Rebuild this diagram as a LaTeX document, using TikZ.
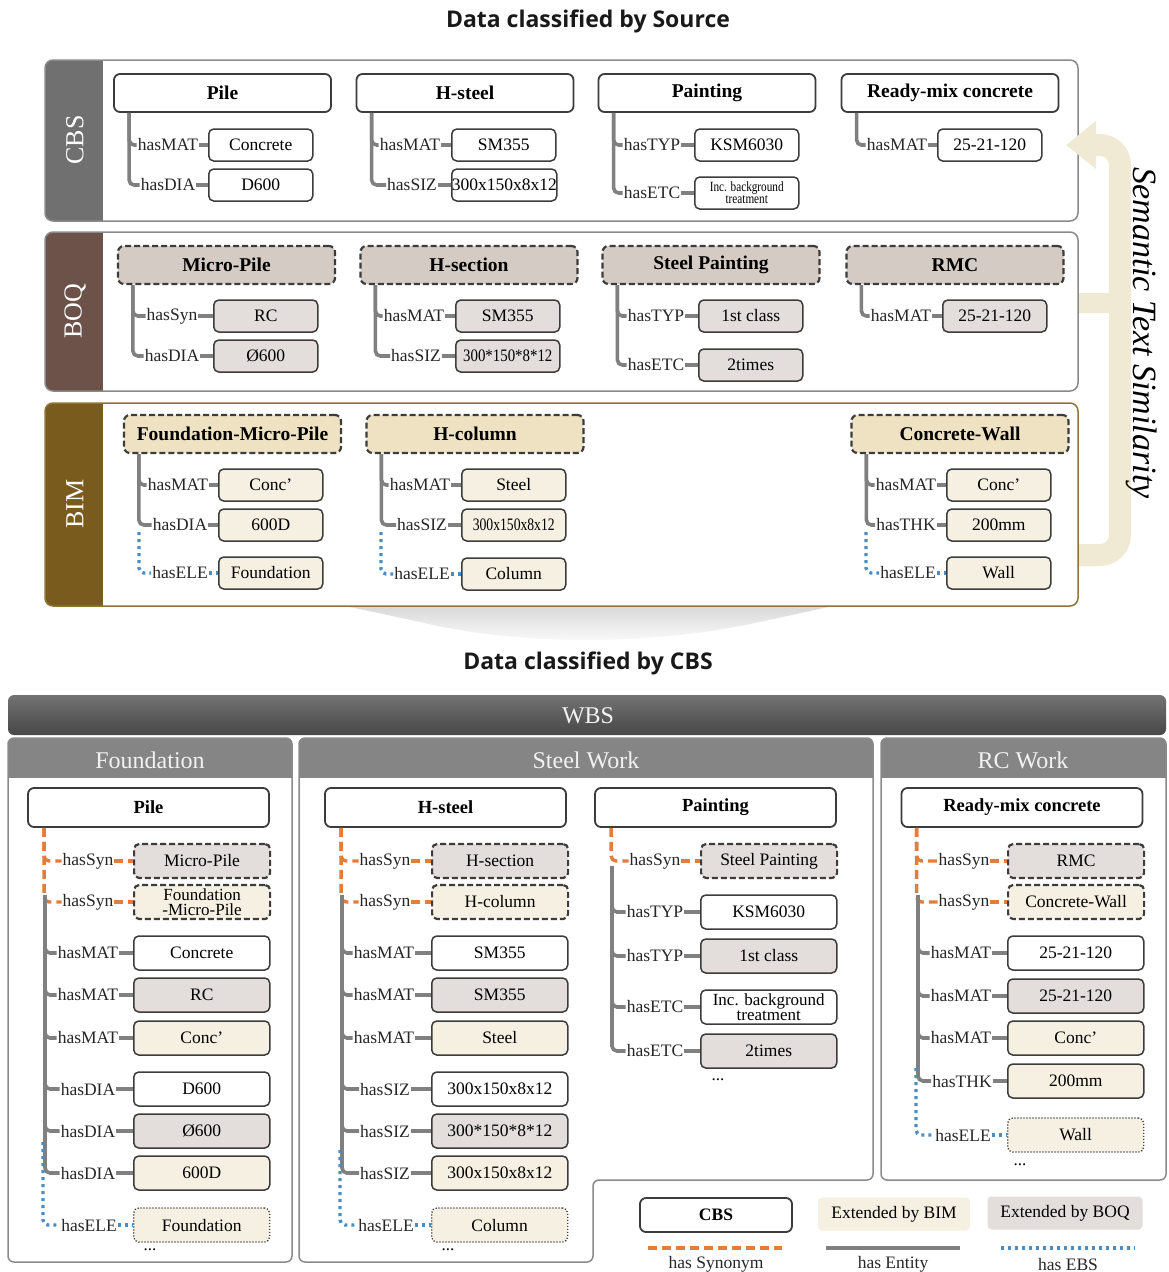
\documentclass[tikz,border=0pt]{standalone}
\usepackage{fontspec}
\setmainfont{Liberation Serif}
\newfontfamily\titlefont{Open Sans}
\usepackage{graphicx}
\usetikzlibrary{arrows.meta}

\definecolor{entc}{HTML}{808080}
\definecolor{sync}{HTML}{E27D3C}
\definecolor{ebsc}{HTML}{4A8CC4}
\definecolor{boqf}{HTML}{E3DEDC}
\definecolor{bimf}{HTML}{F5F0E1}
\definecolor{boqh}{HTML}{D4CBC4}
\definecolor{bimh}{HTML}{EEE2C3}
\definecolor{cbsstrip}{HTML}{707070}
\definecolor{boqstrip}{HTML}{6C5248}
\definecolor{bimstrip}{HTML}{7A5B1E}
\definecolor{bimborder}{HTML}{8E7538}
\definecolor{bandborder}{HTML}{8A8A8A}
\definecolor{boxline}{HTML}{3C3C3C}
\definecolor{semc}{HTML}{F0E9D4}
\definecolor{hdr}{HTML}{858585}

\tikzset{
 lab/.style={inner sep=1pt, font=\fontsize{17.5}{19}\selectfont, text=black!85},
 vbox/.style={draw=boxline, line width=1.5pt, rounded corners=5pt, minimum height=32pt, inner sep=1pt, font=\fontsize{17.5}{19}\selectfont, align=center},
 tw/.style={vbox, minimum width=104pt},
 bw/.style={vbox, minimum width=136pt, minimum height=34pt},
 fcbs/.style={fill=white},
 fboq/.style={fill=boqf},
 fbim/.style={fill=bimf},
 synb/.style={dash pattern=on 6pt off 3pt, line width=2.2pt},
 eleb/.style={dash pattern=on 1.2pt off 1.8pt, line width=1.3pt},
 head/.style={draw=boxline, line width=1.8pt, rounded corners=6pt, minimum height=38pt, inner sep=1pt, font=\bfseries\fontsize{19.5}{21}\selectfont},
 thead/.style={head, minimum width=217pt},
 bhead/.style={head, fill=white, minimum width=241pt, minimum height=39pt, font=\bfseries\fontsize{18.5}{20}\selectfont},
 ent/.style={draw=entc, line width=3.6pt},
 synl/.style={draw=sync, line width=3.4pt, dash pattern=on 9pt off 5pt},
 ebsl/.style={draw=ebsc, line width=3.4pt, dash pattern=on 3pt off 4pt},
 striplab/.style={rotate=90, text=white, font=\fontsize{26}{28}\selectfont},
 hdrlab/.style={text=white!95!black, font=\fontsize{24}{26}\selectfont},
 ttl/.style={font=\titlefont\bfseries\fontsize{23}{28}\selectfont, text=black!90},
 dots/.style={font=\fontsize{17}{19}\selectfont, inner sep=1pt},
}

% #1 id, #2 trunk start, #3 label x, #4 y, #5 label, #6 box style, #7 box left x, #8 line style, #9 box text
\newcommand{\relrow}[9]{%
  \node[lab] (#1l) at (#3,#4) {#5};
  \node[#6,anchor=west] (#1v) at (#7,#4) {#9};
  \draw[#8,rounded corners=5pt] (#2) |- (#1l.west);
  \draw[#8] (#1l.east) -- (#1v.west);
}

\begin{document}
\begin{tikzpicture}[x=1pt,y=-1pt]
\useasboundingbox (0,0) rectangle (1168,1272);

% titles
\node[ttl] (t1) at (588,21) {Data classified by Source};
\node[ttl] (t2) at (588,663) {Data classified by CBS};

% funnel shading below the source bands
\shade[top color=black!16, bottom color=white] (336,604) -- (842,604) -- (760,622) .. controls (650,646) and (520,646) .. (420,622) -- cycle;

% ---------- bands ----------
\begin{scope}
\clip[rounded corners=8pt] (45,60) rectangle (1078,221);
\fill[white] (45,60) rectangle (1078,221);
\fill[cbsstrip] (45,60) rectangle (103,221);
\end{scope}
\draw[draw=bandborder, line width=1.5pt, rounded corners=8pt] (45,60) rectangle (1078,221);
\node[striplab] (sCBS) at (75,140) {CBS};

\begin{scope}
\clip[rounded corners=8pt] (45,232) rectangle (1078,391);
\fill[white] (45,232) rectangle (1078,391);
\fill[boqstrip] (45,232) rectangle (103,391);
\end{scope}
\draw[draw=bandborder, line width=1.5pt, rounded corners=8pt] (45,232) rectangle (1078,391);
\node[striplab] (sBOQ) at (75,311) {BOQ};

\begin{scope}
\clip[rounded corners=8pt] (45,403) rectangle (1078,606);
\fill[white] (45,403) rectangle (1078,606);
\fill[bimstrip] (45,403) rectangle (103,606);
\end{scope}
\draw[draw=bimborder, line width=1.5pt, rounded corners=8pt] (45,403) rectangle (1078,606);
\node[striplab] (sBIM) at (75,504) {BIM};

% semantic similarity arrow
\coordinate (semBIM) at (1079,555);
\coordinate (semTop) at (1120,145);
\coordinate (semTip) at (1066,145);
\coordinate (semBOQ) at (1079,303);
\coordinate (semBOQe) at (1122,303);
\draw[draw=semc, line width=20pt] (semBOQ) -- (semBOQe);
\draw[draw=semc, line width=22pt, rounded corners=20pt, -{Triangle[length=30pt,width=46pt]}] (semBIM) -| (semTop) -- (semTip);
\node[rotate=-90, font=\itshape\fontsize{34}{36}\selectfont] (sem) at (1142,333) {Semantic Text Similarity};

% ---------- CBS row ----------
\node[thead, fill=white] (cPile) at (222.5,93) {Pile};
\node[thead, fill=white] (cHst) at (465,93) {H-steel};
\node[thead, fill=white] (cPnt) at (707,93) {Painting};
\node[thead, fill=white] (cRmc) at (950,93) {Ready-mix concrete};
\coordinate (cPileT) at ([xshift=16pt]cPile.south west);
\coordinate (cHstT) at ([xshift=16pt]cHst.south west);
\coordinate (cPntT) at ([xshift=16pt]cPnt.south west);
\coordinate (cRmcT) at ([xshift=16pt]cRmc.south west);
\relrow{cPa}{cPileT}{168}{145}{hasMAT}{tw,fcbs}{208}{ent}{Concrete}
\relrow{cPb}{cPileT}{168}{185}{hasDIA}{tw,fcbs}{208}{ent}{D600}
\relrow{cHa}{cHstT}{410}{145}{hasMAT}{tw,fcbs}{451}{ent}{SM355}
\relrow{cHb}{cHstT}{412}{185}{hasSIZ}{tw,fcbs,inner xsep=0pt}{451}{ent}{300x150x8x12}
\relrow{cNa}{cPntT}{652}{145}{hasTYP}{tw,fcbs}{694}{ent}{KSM6030}
\relrow{cNb}{cPntT}{652}{193}{hasETC}{tw,fcbs,font=\fontsize{14}{12}\selectfont}{694}{ent}{\scalebox{0.8}[1]{Inc. background}\\\scalebox{0.8}[1]{treatment}}
\relrow{cRa}{cRmcT}{897}{145}{hasMAT}{tw,fcbs}{937}{ent}{25-21-120}

% ---------- BOQ row ----------
\node[thead, fill=boqh, synb] (qMP) at (226.5,265) {Micro-Pile};
\node[thead, fill=boqh, synb] (qHs) at (469,265) {H-section};
\node[thead, fill=boqh, synb] (qSp) at (711,265) {Steel Painting};
\node[thead, fill=boqh, synb] (qRm) at (955,265) {RMC};
\coordinate (qMPT) at ([xshift=16pt]qMP.south west);
\coordinate (qHsT) at ([xshift=16pt]qHs.south west);
\coordinate (qSpT) at ([xshift=16pt]qSp.south west);
\coordinate (qRmT) at ([xshift=16pt]qRm.south west);
\relrow{qMa}{qMPT}{172}{316}{hasSyn}{tw,fboq}{213}{ent}{RC}
\relrow{qMb}{qMPT}{172}{356}{hasDIA}{tw,fboq}{213}{ent}{Ø600}
\relrow{qHa}{qHsT}{414}{316}{hasMAT}{tw,fboq}{455}{ent}{SM355}
\relrow{qHb}{qHsT}{416}{356}{hasSIZ}{tw,fboq}{455}{ent}{\scalebox{0.85}[1]{300*150*8*12}}
\relrow{qSa}{qSpT}{656}{316}{hasTYP}{tw,fboq}{698}{ent}{1st class}
\relrow{qSb}{qSpT}{656}{365}{hasETC}{tw,fboq}{698}{ent}{2times}
\relrow{qRa}{qRmT}{901}{316}{hasMAT}{tw,fboq}{942}{ent}{25-21-120}

% ---------- BIM row ----------
\node[thead, fill=bimh, synb] (bF) at (232.5,434) {Foundation-Micro-Pile};
\node[thead, fill=bimh, synb] (bH) at (475,434) {H-column};
\node[thead, fill=bimh, synb] (bW) at (960,434) {Concrete-Wall};
\coordinate (bFT) at ([xshift=16pt]bF.south west);
\coordinate (bHT) at ([xshift=16pt]bH.south west);
\coordinate (bWT) at ([xshift=16pt]bW.south west);
\coordinate (bFE) at (139,532);
\coordinate (bHE) at (381,532);
\coordinate (bWE) at (866,532);
\relrow{bFa}{bFT}{178}{485}{hasMAT}{tw,fbim}{218}{ent}{Conc’}
\relrow{bFb}{bFT}{180}{525}{hasDIA}{tw,fbim}{218}{ent}{600D}
\relrow{bFc}{bFE}{180}{573}{hasELE}{tw,fbim}{218}{ebsl}{Foundation}
\relrow{bHa}{bHT}{420}{485}{hasMAT}{tw,fbim}{461}{ent}{Steel}
\relrow{bHb}{bHT}{422}{525}{hasSIZ}{tw,fbim}{461}{ent}{\scalebox{0.78}[1]{300x150x8x12}}
\relrow{bHc}{bHE}{422}{574}{hasELE}{tw,fbim}{461}{ebsl}{Column}
\relrow{bWa}{bWT}{906}{485}{hasMAT}{tw,fbim}{946}{ent}{Conc’}
\relrow{bWb}{bWT}{906}{525}{hasTHK}{tw,fbim}{946}{ent}{200mm}
\relrow{bWc}{bWE}{908}{573}{hasELE}{tw,fbim}{946}{ebsl}{Wall}

% ---------- WBS ----------
\shade[top color=black!55, bottom color=black!72, rounded corners=6pt] (8,695) rectangle (1166,735);
\node[hdrlab] (wbs) at (588,716) {WBS};

% Foundation panel
\begin{scope}
\clip[rounded corners=6pt] (8,738) rectangle (292,1262);
\fill[white] (8,738) rectangle (292,1262);
\fill[hdr] (8,738) rectangle (292,778);
\end{scope}
\draw[draw=bandborder, line width=1.5pt, rounded corners=6pt] (8,738) rectangle (292,1262);
\node[hdrlab] (hF) at (150,760) {Foundation};

% Steel Work panel
\begin{scope}
\clip[rounded corners=6pt] (299,738) -- (873,738) -- (873,1180) -- (593,1180) -- (593,1262) -- (299,1262) -- cycle;
\fill[white] (299,738) rectangle (873,1262);
\fill[hdr] (299,738) rectangle (873,778);
\end{scope}
\draw[draw=bandborder, line width=1.5pt, rounded corners=6pt] (299,738) -- (873,738) -- (873,1180) -- (593,1180) -- (593,1262) -- (299,1262) -- cycle;
\node[hdrlab] (hS) at (586,760) {Steel Work};

% RC Work panel
\begin{scope}
\clip[rounded corners=6pt] (881,738) rectangle (1166,1180);
\fill[white] (881,738) rectangle (1166,1180);
\fill[hdr] (881,738) rectangle (1166,778);
\end{scope}
\draw[draw=bandborder, line width=1.5pt, rounded corners=6pt] (881,738) rectangle (1166,1180);
\node[hdrlab] (hR) at (1023,760) {RC Work};

% Foundation column
\node[bhead] (fP) at (148.5,807.5) {Pile};
\coordinate (fPT) at ([xshift=17pt]fP.south west);
\coordinate (fG) at (45,895);
\coordinate (fE) at (43,1142);
\relrow{fa}{fPT}{88}{861}{hasSyn}{bw,fboq,synb}{133}{synl}{Micro-Pile}
\relrow{fb}{fPT}{88}{902}{hasSyn}{bw,fbim,synb,font=\fontsize{17}{15}\selectfont}{133}{synl}{Foundation\\-Micro-Pile}
\relrow{fc}{fG}{88}{953}{hasMAT}{bw,fcbs}{133}{ent}{Concrete}
\relrow{fd}{fG}{88}{995}{hasMAT}{bw,fboq}{133}{ent}{RC}
\relrow{fe}{fG}{88}{1038}{hasMAT}{bw,fbim}{133}{ent}{Conc’}
\relrow{ff}{fG}{88}{1089}{hasDIA}{bw,fcbs}{133}{ent}{D600}
\relrow{fg}{fG}{88}{1131}{hasDIA}{bw,fboq}{133}{ent}{Ø600}
\relrow{fh}{fG}{88}{1173}{hasDIA}{bw,fbim}{133}{ent}{600D}
\relrow{fi}{fE}{89}{1225}{hasELE}{bw,fbim,eleb}{133}{ebsl}{Foundation}
\node[dots] (fdots) at (150,1250) {...};

% H-steel column
\node[bhead] (sP) at (445.5,807.5) {H-steel};
\coordinate (sPT) at ([xshift=17pt]sP.south west);
\coordinate (sG) at (342,895);
\coordinate (sE) at (340,1150);
\relrow{sa}{sPT}{385}{861}{hasSyn}{bw,fboq,synb}{431}{synl}{H-section}
\relrow{sb}{sPT}{385}{902}{hasSyn}{bw,fbim,synb}{431}{synl}{H-column}
\relrow{sc}{sG}{384}{953}{hasMAT}{bw,fcbs}{431}{ent}{SM355}
\relrow{sd}{sG}{384}{995}{hasMAT}{bw,fboq}{431}{ent}{SM355}
\relrow{se}{sG}{384}{1038}{hasMAT}{bw,fbim}{431}{ent}{Steel}
\relrow{sf}{sG}{385}{1089}{hasSIZ}{bw,fcbs}{431}{ent}{300x150x8x12}
\relrow{sg}{sG}{385}{1131}{hasSIZ}{bw,fboq}{431}{ent}{300*150*8*12}
\relrow{sh}{sG}{385}{1173}{hasSIZ}{bw,fbim}{431}{ent}{300x150x8x12}
\relrow{si}{sE}{386}{1225}{hasELE}{bw,fbim,eleb}{431}{ebsl}{Column}
\node[dots] (sdots) at (448,1250) {...};

% Painting column
\node[bhead] (pP) at (715.5,807.5) {Painting};
\coordinate (pPT) at ([xshift=17pt]pP.south west);
\coordinate (pG) at (612,866);
\relrow{pa}{pPT}{655}{861}{hasSyn}{bw,fboq,synb}{700}{synl}{Steel Painting}
\relrow{pb}{pG}{655}{912}{hasTYP}{bw,fcbs}{700}{ent}{KSM6030}
\relrow{pc}{pG}{655}{956}{hasTYP}{bw,fboq}{700}{ent}{1st class}
\relrow{pd}{pG}{655}{1007}{hasETC}{bw,fcbs,font=\fontsize{17}{15}\selectfont}{700}{ent}{Inc. background\\treatment}
\relrow{pe}{pG}{655}{1051}{hasETC}{bw,fboq}{700}{ent}{2times}
\node[dots] (pdots) at (718,1080) {...};

% RC column
\node[bhead] (rP) at (1022,807.5) {Ready-mix concrete};
\coordinate (rPT) at ([xshift=16pt]rP.south west);
\coordinate (rG) at (918,895);
\coordinate (rE) at (916,1068);
\relrow{ra}{rPT}{964}{861}{hasSyn}{bw,fboq,synb}{1007}{synl}{RMC}
\relrow{rb}{rPT}{964}{902}{hasSyn}{bw,fbim,synb}{1007}{synl}{Concrete-Wall}
\relrow{rc}{rG}{961}{953}{hasMAT}{bw,fcbs}{1007}{ent}{25-21-120}
\relrow{rd}{rG}{961}{996}{hasMAT}{bw,fboq}{1007}{ent}{25-21-120}
\relrow{re}{rG}{961}{1038}{hasMAT}{bw,fbim}{1007}{ent}{Conc’}
\relrow{rf}{rG}{962}{1081}{hasTHK}{bw,fbim}{1007}{ent}{200mm}
\relrow{rg}{rE}{963}{1135}{hasELE}{bw,fbim,eleb}{1007}{ebsl}{Wall}
\node[dots] (rdots) at (1020,1165) {...};

% ---------- legend ----------
\node[head, fill=white, minimum width=152pt, minimum height=34pt, font=\bfseries\fontsize{17.5}{19}\selectfont] (lgC) at (716,1215) {CBS};
\node[fill=bimf, rounded corners=4pt, minimum width=152pt, minimum height=33pt, inner sep=1pt, font=\fontsize{17.5}{19}\selectfont] (lgB) at (894,1214) {Extended by BIM};
\node[fill=boqf, rounded corners=4pt, minimum width=155pt, minimum height=33pt, inner sep=1pt, font=\fontsize{17.5}{19}\selectfont] (lgQ) at (1065,1213) {Extended by BOQ};
\coordinate (l1a) at (648,1248); \coordinate (l1b) at (782,1248);
\coordinate (l2a) at (826,1248); \coordinate (l2b) at (960,1248);
\coordinate (l3a) at (1001,1248); \coordinate (l3b) at (1135,1248);
\draw[synl] (l1a) -- (l1b);
\draw[ent] (l2a) -- (l2b);
\draw[ebsl] (l3a) -- (l3b);
\node[lab] (lt1) at (716,1264) {has Synonym};
\node[lab] (lt2) at (893,1264) {has Entity};
\node[lab] (lt3) at (1068,1264) {has EBS};
\end{tikzpicture}
\end{document}
